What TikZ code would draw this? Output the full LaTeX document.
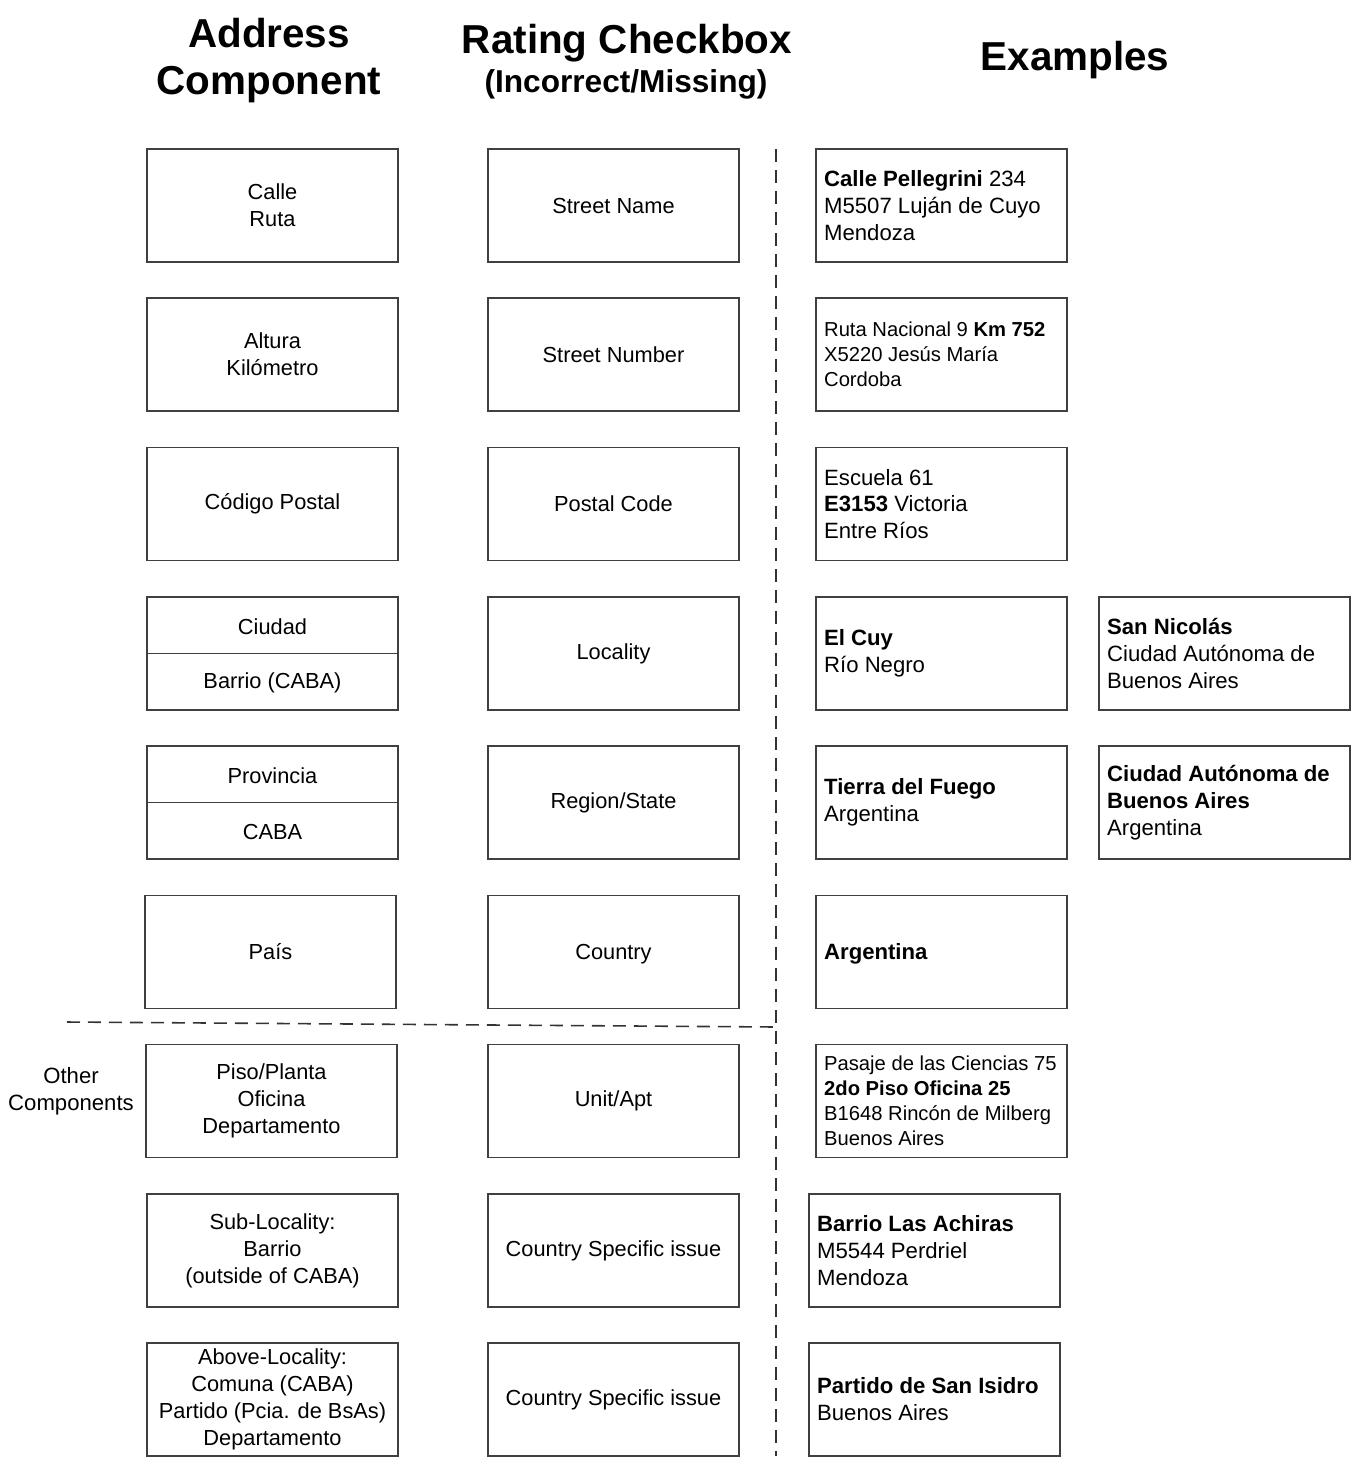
\documentclass[tikz,border=0pt]{standalone}
\usepackage{fontspec}
\setmainfont{Liberation Sans}
\usetikzlibrary{positioning}

\begin{document}
\begin{tikzpicture}[x=0.02cm,y=-0.02cm,
  every node/.style={inner sep=1pt,text=black,font=\fontsize{12.4}{15.3}\selectfont},
  box/.style={draw=black!75,line width=1.1pt,minimum width=5.02cm,minimum height=2.26cm,align=center},
  extext/.style={anchor=west,align=left,font=\fontsize{12.6}{15.3}\selectfont},
  exsmall/.style={anchor=west,align=left,font=\fontsize{11.5}{14.2}\selectfont},
  head/.style={font=\fontsize{23}{26.7}\selectfont\bfseries,align=center},
  sep/.style={draw=black!80,line width=0.9pt,dash pattern=on 0.26cm off 0.16cm}]
\useasboundingbox (0,0) rectangle (1352,1458);
% headings
\node[head] (hAddr) at (269,61) {Address\\Component};
\node[head] (hRate) at (627,43) {Rating Checkbox};
\node[font=\fontsize{18}{22}\selectfont\bfseries] (hRateSub) at (626,84) {(Incorrect/Missing)};
\node[head] (hEx) at (1075,60) {Examples};
% address components
\node[box] (c1) at (272.5,205.5) {Calle\\Ruta};
\node[box] (c2) at (272.5,354.5) {Altura\\Kilómetro};
\node[box] (c3) at (272.5,504) {Código Postal};
\node[box] (c4) at (272.5,653.5) {};
\node (c4a) at (272.5,627) {Ciudad};
\node (c4b) at (272.5,683) {Barrio (CABA)};
\node[box] (c5) at (272.5,802.5) {};
\node (c5a) at (272.5,776) {Provincia};
\node (c5b) at (272.5,832) {CABA};
\node[box] (c6) at (270.5,952) {País};
\node[box] (c7) at (271.5,1101) {Piso/Planta\\Oficina\\Departamento};
\node[box] (c8) at (272.5,1250.5) {Sub-Locality:\\Barrio\\(outside of CABA)};
\node[box] (c9) at (272.5,1399.5) {Above-Locality:\\Comuna (CABA)\\Partido (Pcia. de BsAs)\\Departamento};
\node[align=center,font=\fontsize{12.6}{15.3}\selectfont] (other) at (71,1091) {Other\\Components};
% rating checkboxes
\node[box] (r1) at (613.5,205.5) {Street Name};
\node[box] (r2) at (613.5,354.5) {Street Number};
\node[box] (r3) at (613.5,504) {Postal Code};
\node[box] (r4) at (613.5,653.5) {Locality};
\node[box] (r5) at (613.5,802.5) {Region/State};
\node[box] (r6) at (613.5,952) {};
\node (r6t) at (613.5,954) {Country};
\node[box] (r7) at (613.5,1101) {Unit/Apt};
\node[box] (r8) at (613.5,1250.5) {Country Specific issue};
\node[box] (r9) at (613.5,1399.5) {Country Specific issue};
% examples
\node[box] (e1) at (941.5,205.5) {};
\node[box] (e2) at (941.5,354.5) {};
\node[box] (e3) at (941.5,504) {};
\node[box] (e4) at (941.5,653.5) {};
\node[box] (e5) at (941.5,802.5) {};
\node[box] (e6) at (941.5,952) {};
\node[box] (e7) at (941.5,1101) {};
\node[box] (e8) at (934.5,1250.5) {};
\node[box] (e9) at (934.5,1399.5) {};
\node[box] (x4) at (1224.5,653.5) {};
\node[box] (x5) at (1224.5,802.5) {};
\node[extext] (e1t) at ([xshift=0.14cm]e1.west) {\textbf{Calle Pellegrini} 234\\M5507 Luján de Cuyo\\Mendoza};
\node[exsmall] (e2t) at ([xshift=0.14cm]e2.west) {Ruta Nacional 9 \textbf{Km 752}\\X5220 Jesús María\\Cordoba};
\node[extext] (e3t) at ([xshift=0.14cm]e3.west) {Escuela 61\\\textbf{E3153} Victoria\\Entre Ríos};
\node[extext] (e4t) at ([xshift=0.14cm]e4.west) {\textbf{El Cuy}\\Río Negro};
\node[extext] (e5t) at ([xshift=0.14cm]e5.west) {\textbf{Tierra del Fuego}\\Argentina};
\node[extext] (e6t) at ([xshift=0.14cm,yshift=-0.04cm]e6.west) {\textbf{Argentina}};
\node[exsmall] (e7t) at ([xshift=0.14cm]e7.west) {Pasaje de las Ciencias 75\\\textbf{2do Piso Oficina 25}\\B1648 Rincón de Milberg\\Buenos Aires};
\node[extext] (e8t) at ([xshift=0.14cm]e8.west) {\textbf{Barrio Las Achiras}\\M5544 Perdriel\\Mendoza};
\node[extext] (e9t) at ([xshift=0.14cm]e9.west) {\textbf{Partido de San Isidro}\\Buenos Aires};
\node[extext] (x4t) at ([xshift=0.14cm]x4.west) {\textbf{San Nicolás}\\Ciudad Autónoma de\\Buenos Aires};
\node[extext] (x5t) at ([xshift=0.14cm]x5.west) {\textbf{Ciudad Autónoma de}\\\textbf{Buenos Aires}\\Argentina};
% dividers
\draw[draw=black!75,line width=1.1pt] (c4.west) -- (c4.east);
\draw[draw=black!75,line width=1.1pt] (c5.west) -- (c5.east);
\coordinate (vTop) at (776,149);
\coordinate (vBot) at (776,1456);
\coordinate (hLeft) at (67,1022);
\coordinate (hRight) at (776,1027);
\draw[sep] (vTop) -- (vBot);
\draw[sep] (hLeft) -- (hRight);
\end{tikzpicture}
\end{document}
